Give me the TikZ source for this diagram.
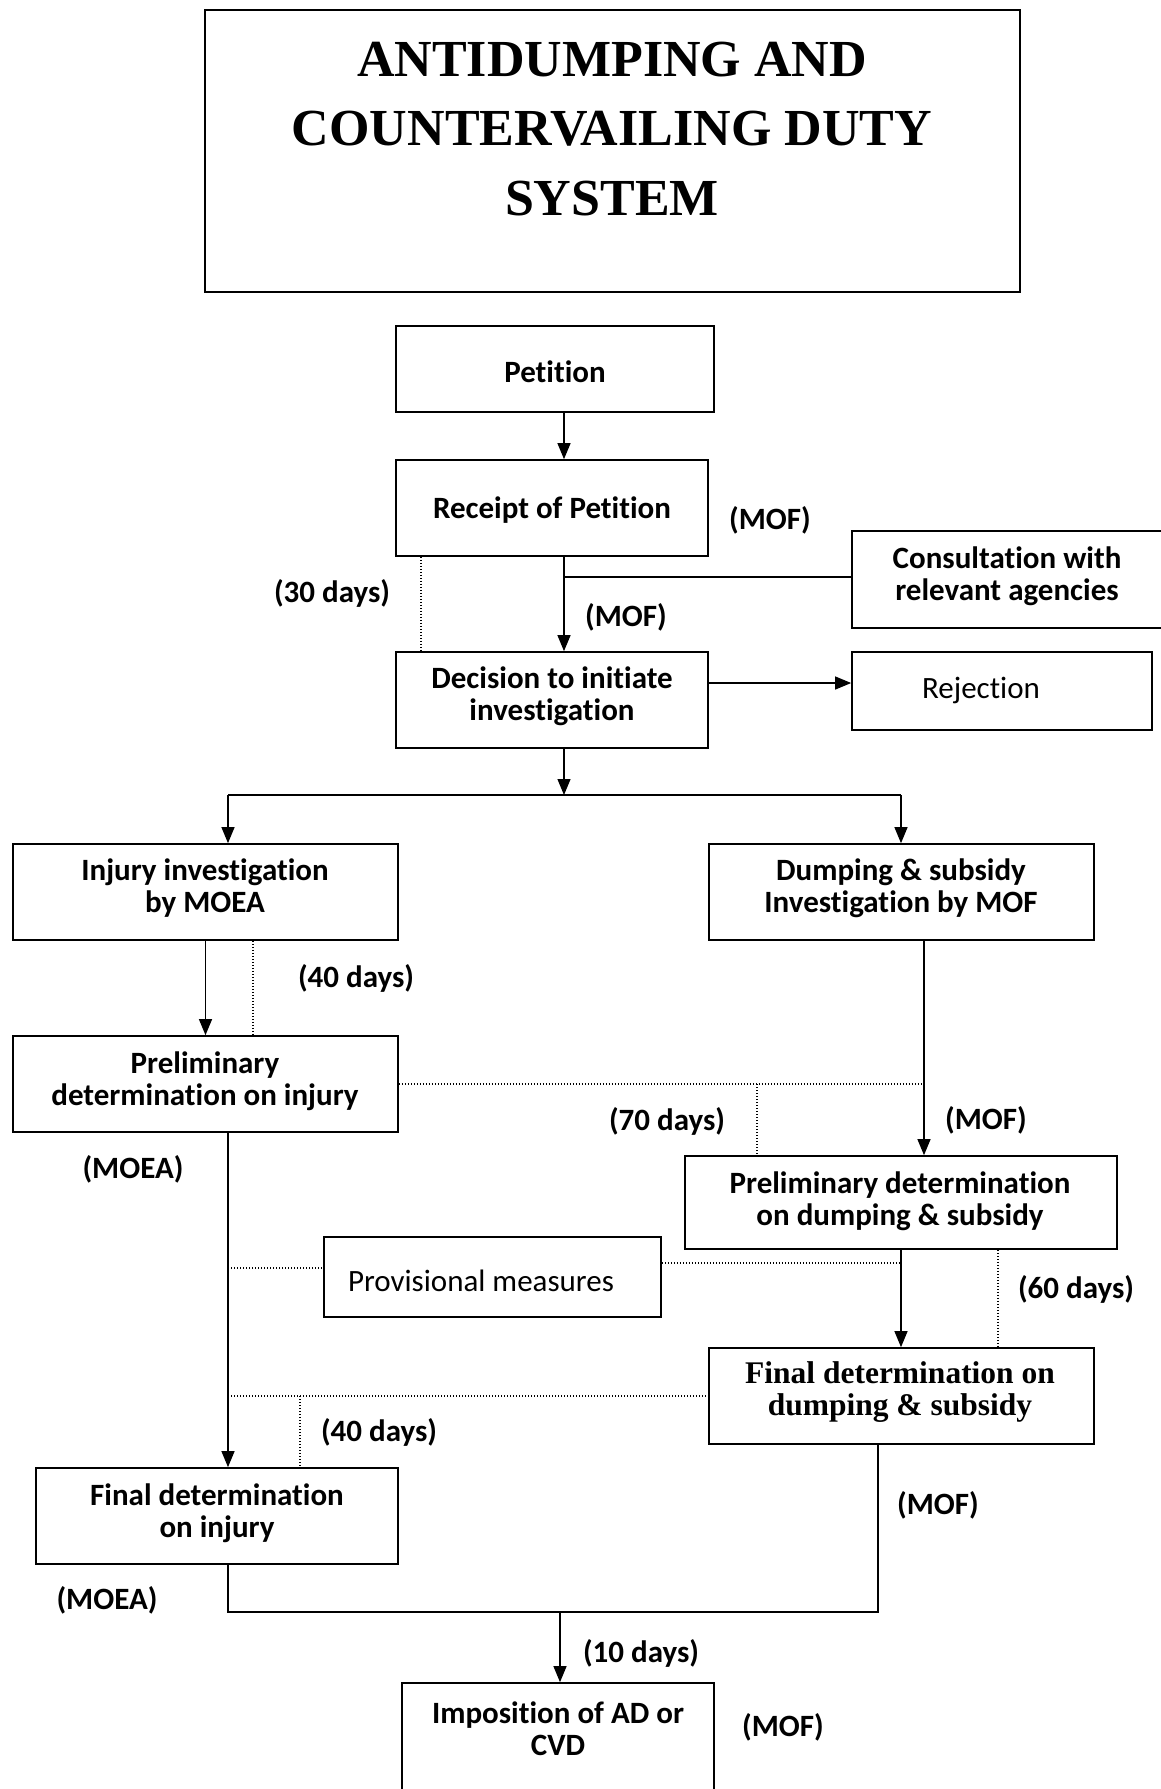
\documentclass[tikz,border=0pt]{standalone}
\usepackage{fontspec}
\setmainfont{Carlito}[Ligatures=NoCommon]
\newfontfamily\timesfont{Liberation Serif}
\usetikzlibrary{arrows.meta}
\begin{document}
\begin{tikzpicture}[x=1pt,y=-1pt,
  box/.style={draw, line width=1.7pt, inner sep=0pt},
  conn/.style={line width=1.2pt},
  arr/.style={conn, -{Triangle[length=16pt,width=13pt]}},
  dotln/.style={line width=1.4pt, dash pattern=on 1.4pt off 1.6pt},
  txt/.style={font=\bfseries\fontsize{31}{32}\selectfont, align=center, inner sep=0pt},
  rtxt/.style={font=\fontsize{31}{32}\selectfont, inner sep=0pt},
  ttxt/.style={font=\timesfont\bfseries\fontsize{31.5}{32}\selectfont, align=center, inner sep=0pt},
  titletxt/.style={font=\timesfont\bfseries\fontsize{52}{69.5}\selectfont, align=center, inner sep=0pt},
  lab/.style={font=\bfseries\fontsize{31}{32}\selectfont, inner sep=0pt}]
\useasboundingbox (0,0) rectangle (1161,1789);
\clip (0,0) rectangle (1161,1789);
\fill[white] (0,0) rectangle (1161,1789);

% boxes
\node[box, minimum width=815pt, minimum height=282pt] (title) at (612.5,151) {};
\node[box, minimum width=318pt, minimum height=86pt] (petition) at (555,369) {};
\node[box, minimum width=312pt, minimum height=96pt] (receipt) at (552,508) {};
\node[box, minimum width=328pt, minimum height=97pt] (consult) at (1016,579.5) {};
\node[box, minimum width=312pt, minimum height=96pt] (decision) at (552,700) {};
\node[box, minimum width=300pt, minimum height=78pt] (rejection) at (1002,691) {};
\node[box, minimum width=385pt, minimum height=96pt] (injury) at (205.5,892) {};
\node[box, minimum width=385pt, minimum height=96pt] (dumping) at (901.5,892) {};
\node[box, minimum width=385pt, minimum height=96pt] (prelimInj) at (205.5,1084) {};
\node[box, minimum width=432pt, minimum height=93pt] (prelimDump) at (901,1202.5) {};
\node[box, minimum width=337pt, minimum height=80pt] (prov) at (492.5,1277) {};
\node[box, minimum width=385pt, minimum height=96pt] (finalDump) at (901.5,1396) {};
\node[box, minimum width=362pt, minimum height=96pt] (finalInj) at (217,1516) {};
\node[box, minimum width=312pt, minimum height=127pt] (impos) at (558,1746.5) {};

% box texts
\node[titletxt] (tTitle) at (612,129) {ANTIDUMPING AND\\COUNTERVAILING DUTY\\SYSTEM};
\node[txt] (tPetition) at (555,372) {Petition};
\node[txt] (tReceipt) at (552,510) {Receipt of Petition};
\node[txt] (tConsult) at (1007,576) {Consultation with\\relevant agencies};
\node[txt] (tDecision) at (552,696) {Decision to initiate\\investigation};
\node[rtxt] (tRejection) at (981,690) {Rejection};
\node[txt] (tInjury) at (205,888) {Injury investigation\\by MOEA};
\node[txt] (tDumping) at (901,888) {Dumping \& subsidy\\Investigation by MOF};
\node[txt] (tPrelimInj) at (205,1081) {Preliminary\\determination on injury};
\node[txt] (tPrelimDump) at (900,1201) {Preliminary determination\\on dumping \& subsidy};
\node[rtxt] (tProv) at (481,1281) {Provisional measures};
\node[ttxt] (tFinalDump) at (900,1392) {Final determination on\\dumping \& subsidy};
\node[txt] (tFinalInj) at (217,1513) {Final determination\\on injury};
\node[txt] (tImpos) at (558,1729) {Imposition of AD or\\CVD};

% labels
\node[lab] (l1) at (770,520) {(MOF)};
\node[lab] (l2) at (332,593) {(30 days)};
\node[lab] (l3) at (626,617) {(MOF)};
\node[lab] (l4) at (356,978) {(40 days)};
\node[lab] (l5) at (667,1121) {(70 days)};
\node[lab] (l6) at (986,1120) {(MOF)};
\node[lab] (l7) at (133,1169) {(MOEA)};
\node[lab] (l8) at (1076,1289) {(60 days)};
\node[lab] (l9) at (379,1432) {(40 days)};
\node[lab] (l10) at (938,1505) {(MOF)};
\node[lab] (l11) at (107,1600) {(MOEA)};
\node[lab] (l12) at (641,1653) {(10 days)};
\node[lab] (l13) at (783,1727) {(MOF)};

% helper coordinates
\coordinate (cx) at (564,0);
\coordinate (cj) at (564,577);
\coordinate (rj) at (0,683);
\coordinate (d30) at (421,0);
\coordinate (sL) at (228,795);
\coordinate (sM) at (564,795);
\coordinate (sR) at (901,795);
\coordinate (d40a) at (253,0);
\coordinate (h1) at (0,1084);
\coordinate (h1end) at (924,1084);
\coordinate (v924) at (924,0);
\coordinate (v757) at (757,1084);
\coordinate (vL) at (228,0);
\coordinate (pL) at (228,1268);
\coordinate (pR) at (901,1263);
\coordinate (v901) at (901,0);
\coordinate (v998) at (998,0);
\coordinate (fL) at (228,1396);
\coordinate (f300) at (300,1396);
\coordinate (bL) at (228,1612);
\coordinate (bR) at (878,1612);
\coordinate (bM) at (560,1612);

% connectors
\draw[arr] (petition.south -| cx) -- (receipt.north -| cx);
\draw[arr] (receipt.south -| cx) -- (decision.north -| cx);
\draw[conn] (cj) -- (cj -| consult.west);
\draw[dotln] (receipt.south -| d30) -- (decision.north -| d30);
\draw[arr] (rj -| decision.east) -- (rj -| rejection.west);
\draw[arr] (decision.south -| cx) -- (sM);
\draw[conn] (sL) -- (sR);
\draw[arr] (sL) -- (sL |- injury.north);
\draw[arr] (sR) -- (sR |- dumping.north);
\draw[arr] (injury.south) -- (prelimInj.north);
\draw[dotln] (injury.south -| d40a) -- (prelimInj.north -| d40a);
\draw[dotln] (h1 -| prelimInj.east) -- (h1end);
\draw[arr] (dumping.south -| v924) -- (prelimDump.north -| v924);
\draw[dotln] (v757) -- (v757 |- prelimDump.north);
\draw[arr] (prelimInj.south -| vL) -- (finalInj.north -| vL);
\draw[dotln] (pL) -- (pL -| prov.west);
\draw[dotln] (pR -| prov.east) -- (pR);
\draw[arr] (prelimDump.south -| v901) -- (finalDump.north -| v901);
\draw[dotln] (prelimDump.south -| v998) -- (finalDump.north -| v998);
\draw[dotln] (fL) -- (fL -| finalDump.west);
\draw[dotln] (f300) -- (f300 |- finalInj.north);
\draw[conn] (finalInj.south -| vL) -- (bL) -- (bR) -- (bR |- finalDump.south);
\draw[arr] (bM) -- (bM |- impos.north);
\end{tikzpicture}
\end{document}
